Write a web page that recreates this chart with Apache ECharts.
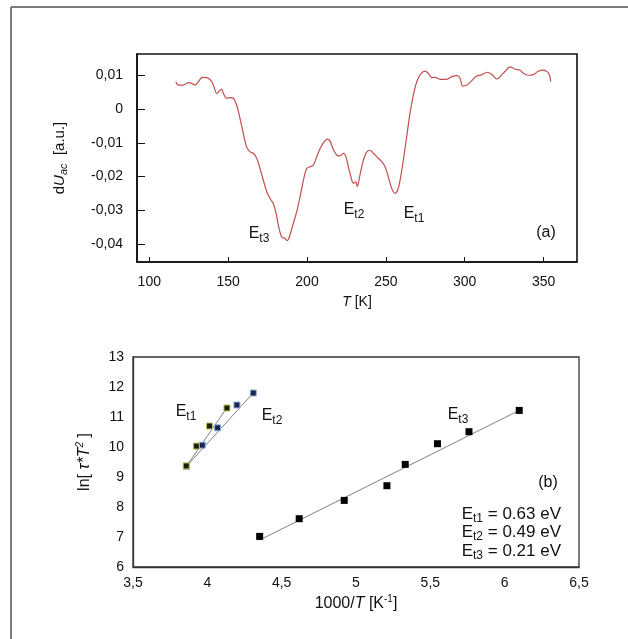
<!DOCTYPE html>
<html>
<head>
<meta charset="utf-8">
<script src="https://cdn.jsdelivr.net/npm/echarts@6/dist/echarts.min.js"></script>
<style>
html,body{margin:0;padding:0;background:#fff;}
#chart{width:628px;height:639px;}
</style>
</head>
<body>
<div id="chart"></div>
<script>
// ---- Panel (a): dU_ac vs T ----
var tempK = [116.8,118.4,121.6,124.7,126.9,129.0,131.1,133.2,135.3,137.4,139.6,141.0,142.8,144.4,145.9,147.0,149.1,151.2,153.3,155.4,157.5,159.6,161.7,163.9,166.0,168.1,170.2,172.3,174.5,176.6,178.6,180.4,181.8,184.0,186.1,187.5,189.2,191.3,193.5,195.6,197.7,199.8,201.9,204.0,206.2,208.3,210.4,212.9,214.6,216.7,218.8,220.9,223.0,224.7,226.2,227.3,228.4,229.4,230.9,231.9,233.6,235.7,237.9,240.0,242.1,244.2,247.4,249.5,251.6,253.7,255.8,257.5,259.0,261.1,263.2,265.3,267.4,269.6,271.7,274.8,276.9,279.1,281.2,284.4,288.6,291.8,295.0,297.0,298.7,301.3,304.5,307.6,310.8,314.0,317.1,320.3,322.4,325.6,328.7,331.9,335.1,337.2,340.3,343.5,346.7,349.9,352.4,353.7,354.6];
var dUac = [0.0081,0.0071,0.0071,0.0078,0.0076,0.0071,0.0081,0.0093,0.0094,0.0091,0.0081,0.0066,0.0046,0.0053,0.0059,0.0046,0.0032,0.0034,0.0032,0.0012,-0.0028,-0.0072,-0.0112,-0.0127,-0.0131,-0.0146,-0.0176,-0.0211,-0.0245,-0.0265,-0.0280,-0.0309,-0.0344,-0.0379,-0.0383,-0.0390,-0.0373,-0.0339,-0.0304,-0.0260,-0.0211,-0.0176,-0.0171,-0.0166,-0.0141,-0.0117,-0.0100,-0.0089,-0.0095,-0.0120,-0.0136,-0.0139,-0.0131,-0.0141,-0.0171,-0.0191,-0.0211,-0.0220,-0.0216,-0.0230,-0.0195,-0.0153,-0.0127,-0.0122,-0.0131,-0.0141,-0.0156,-0.0171,-0.0201,-0.0235,-0.0250,-0.0240,-0.0211,-0.0151,-0.0082,-0.0013,0.0041,0.0081,0.0101,0.0112,0.0106,0.0093,0.0094,0.0088,0.0088,0.0096,0.0099,0.0091,0.0068,0.0071,0.0084,0.0098,0.0101,0.0109,0.0103,0.0089,0.0096,0.0112,0.0125,0.0118,0.0115,0.0106,0.0100,0.0102,0.0112,0.0115,0.0110,0.0101,0.0081];
var tickT = [100,150,200,250,300,350];
var tickdU = [-0.04,-0.03,-0.02,-0.01,0,0.01];

// ---- Panel (b): Arrhenius plot ----
var et1X = [3.858,3.926,4.015,4.132];
var et1Y = [9.37,10.03,10.70,11.30];
var et2X = [3.860,3.966,4.069,4.199,4.309];
var et2Y = [9.35,10.06,10.64,11.40,11.80];
var et3X = [4.352,4.618,4.921,5.208,5.331,5.548,5.760,6.098];
var et3Y = [7.02,7.61,8.22,8.71,9.42,10.11,10.51,11.22];
var fit1X = [3.855,4.135];
var fit1Y = [9.33,11.33];
var fit2X = [3.855,4.312];
var fit2Y = [9.33,11.82];
var fit3X = [4.352,6.098];
var fit3Y = [6.90,11.22];

function zip(a,b){ return a.map(function(v,i){ return [v,b[i]]; }); }
function comma(v){ return String(v).replace('.', ','); }

var FONT = 'Liberation Sans, Arial, sans-serif';
var chart = echarts.init(document.getElementById('chart'));

function eLabel(sub, x, y){
  return {
    type:'text', x:x, y:y, z:100,
    style:{
      text:'{a|E}{b|' + sub + '}',
      align:'center', verticalAlign:'middle',
      fill:'#111',
      rich:{
        a:{fontSize:16, fontFamily:FONT, lineHeight:21, fill:'#111', color:'#111'},
        b:{fontSize:12, fontFamily:FONT, lineHeight:12, verticalAlign:'bottom', fill:'#111', color:'#111'}
      }
    }
  };
}
function eValue(sub, val, x, y){
  return {
    type:'text', x:x, y:y, z:100,
    style:{
      text:'{a|E}{b|' + sub + '}{a| = ' + val + '}',
      align:'right', verticalAlign:'middle',
      fill:'#111',
      rich:{
        a:{fontSize:17, fontFamily:FONT, lineHeight:21, fill:'#111', color:'#111'},
        b:{fontSize:12, fontFamily:FONT, lineHeight:12, verticalAlign:'bottom', fill:'#111', color:'#111'}
      }
    }
  };
}

var axisLabelStyle = {color:'#111', fontSize:14, fontFamily:FONT};

var option = {
  backgroundColor:'#fff',
  animation:false,
  grid:[
    {left:137, top:54, right:51, bottom:377, show:true, borderColor:'#111', borderWidth:1.6, backgroundColor:'transparent'},
    {left:133, top:357, right:49, bottom:72, show:true, borderColor:'#333', borderWidth:1.3, backgroundColor:'transparent'}
  ],
  xAxis:[
    {
      type:'value', gridIndex:0, min:92.2, max:371.2,
      axisLine:{show:true, onZero:false, lineStyle:{color:'#111', width:1.6}},
      axisTick:{show:true, inside:true, length:5, customValues:tickT, lineStyle:{color:'#111', width:1}},
      axisLabel:Object.assign({margin:13, customValues:tickT}, axisLabelStyle),
      splitLine:{show:false},
      name:'{i|T} [K]', nameLocation:'middle', nameGap:33,
      nameTextStyle:{color:'#111', fontSize:14, fontFamily:FONT, rich:{i:{fontStyle:'italic', fontSize:14, fontFamily:FONT, color:'#111'}}}
    },
    {
      type:'value', gridIndex:1, min:3.5, max:6.5, interval:0.5,
      axisLine:{show:true, onZero:false, lineStyle:{color:'#333', width:1.3}},
      axisTick:{show:false},
      axisLabel:Object.assign({margin:9, formatter:comma}, axisLabelStyle),
      splitLine:{show:false},
      name:'{n|1000/}{i|T}{n| [K}{s|-1}{n|]}', nameLocation:'middle', nameGap:27,
      nameTextStyle:{color:'#111', fontSize:16, fontFamily:FONT, rich:{
        n:{fontSize:16, fontFamily:FONT, color:'#111', lineHeight:20},
        i:{fontStyle:'italic', fontSize:16, fontFamily:FONT, color:'#111', lineHeight:20},
        s:{fontSize:10, fontFamily:FONT, color:'#111', lineHeight:10, verticalAlign:'top'}
      }}
    }
  ],
  yAxis:[
    {
      type:'value', gridIndex:0, min:-0.0453, max:0.0163,
      axisLine:{show:true, onZero:false, lineStyle:{color:'#111', width:1.6}},
      axisTick:{show:true, inside:true, length:8, customValues:tickdU, lineStyle:{color:'#111', width:1}},
      axisLabel:Object.assign({margin:14, customValues:tickdU, formatter:comma}, axisLabelStyle),
      splitLine:{show:false},
      name:'{n|d}{i|U}{s|ac}{n|  [a.u.]}', nameLocation:'middle', nameGap:68,
      nameTextStyle:{color:'#111', fontSize:15, fontFamily:FONT, rich:{
        n:{fontSize:15, fontFamily:FONT, color:'#111', lineHeight:19},
        i:{fontStyle:'italic', fontSize:15, fontFamily:FONT, color:'#111', lineHeight:19},
        s:{fontStyle:'italic', fontSize:11, fontFamily:FONT, color:'#111', lineHeight:11, verticalAlign:'bottom'}
      }}
    },
    {
      type:'value', gridIndex:1, min:6, max:13, interval:1,
      axisLine:{show:true, onZero:false, lineStyle:{color:'#333', width:1.3}},
      axisTick:{show:false},
      axisLabel:Object.assign({margin:9}, axisLabelStyle),
      splitLine:{show:false},
      name:'{n|ln[ }{i|τ*T}{s|2}{n| ]}', nameLocation:'middle', nameGap:38,
      nameTextStyle:{color:'#111', fontSize:16, fontFamily:FONT, rich:{
        n:{fontSize:16, fontFamily:FONT, color:'#111', lineHeight:20},
        i:{fontStyle:'italic', fontSize:16, fontFamily:FONT, color:'#111', lineHeight:20},
        s:{fontStyle:'italic', fontSize:10, fontFamily:FONT, color:'#111', lineHeight:10, verticalAlign:'top'}
      }}
    }
  ],
  series:[
    {type:'line', xAxisIndex:0, yAxisIndex:0, data:zip(tempK,dUac), showSymbol:false, symbol:'none', smooth:0.3,
     lineStyle:{color:'#c0504d', width:1.2}, z:5},
    {type:'line', xAxisIndex:1, yAxisIndex:1, data:zip(fit1X,fit1Y), symbol:'none', lineStyle:{color:'#7f7f7f', width:1}, z:2},
    {type:'line', xAxisIndex:1, yAxisIndex:1, data:zip(fit2X,fit2Y), symbol:'none', lineStyle:{color:'#7f7f7f', width:1}, z:2},
    {type:'line', xAxisIndex:1, yAxisIndex:1, data:zip(fit3X,fit3Y), symbol:'none', lineStyle:{color:'#7f7f7f', width:1}, z:2},
    {type:'scatter', xAxisIndex:1, yAxisIndex:1, data:zip(et2X,et2Y), symbol:'rect', symbolSize:6,
     itemStyle:{color:'#1c2450', borderColor:'#8fb4e0', borderWidth:1, opacity:1}, z:6},
    {type:'scatter', xAxisIndex:1, yAxisIndex:1, data:zip(et1X,et1Y), symbol:'rect', symbolSize:6,
     itemStyle:{color:'#1e1e0a', borderColor:'#b6c85a', borderWidth:1, opacity:1}, z:7},
    {type:'scatter', xAxisIndex:1, yAxisIndex:1, data:zip(et3X,et3Y), symbol:'rect', symbolSize:7,
     itemStyle:{color:'#000', opacity:1}, z:6}
  ],
  graphic:[
    {type:'line', shape:{x1:11, y1:7, x2:628, y2:7}, style:{stroke:'#7a7a7a', lineWidth:2}, z:0},
    {type:'line', shape:{x1:11, y1:7, x2:11, y2:639}, style:{stroke:'#7a7a7a', lineWidth:2}, z:0},
    eLabel('t3', 259, 234),
    eLabel('t2', 354, 210),
    eLabel('t1', 414, 214),
    {type:'text', x:546, y:233, z:100, style:{text:'(a)', align:'center', verticalAlign:'middle', fontSize:16, fontFamily:FONT, fill:'#111'}},
    eLabel('t1', 186, 412),
    eLabel('t2', 272, 416),
    eLabel('t3', 458, 415),
    {type:'text', x:548, y:483, z:100, style:{text:'(b)', align:'center', verticalAlign:'middle', fontSize:16, fontFamily:FONT, fill:'#111'}},
    eValue('t1', '0.63 eV', 561, 514),
    eValue('t2', '0.49 eV', 561, 532),
    eValue('t3', '0.21 eV', 561, 551)
  ]
};
chart.setOption(option);
</script>
</body>
</html>
